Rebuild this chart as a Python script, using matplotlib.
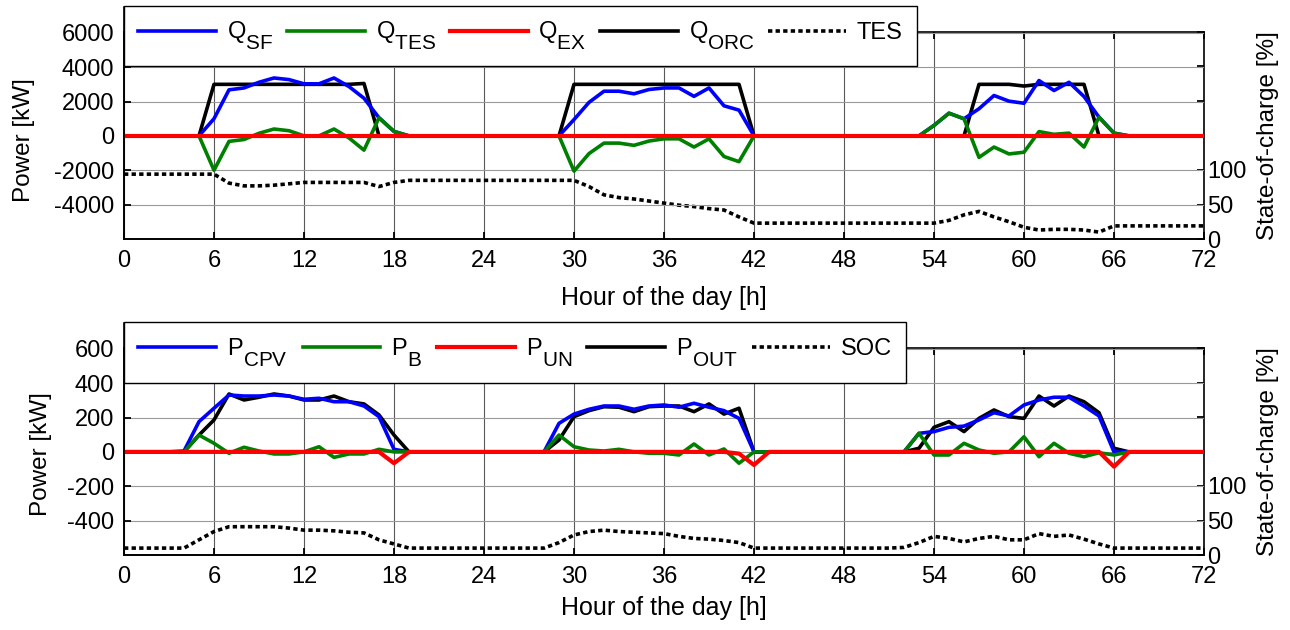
import matplotlib
matplotlib.use('Agg')
import matplotlib.pyplot as plt
import numpy as np
from matplotlib.ticker import FixedLocator, FixedFormatter
import matplotlib._mathtext as _mt
_mt.SHRINK_FACTOR = 0.88
_mt.FontConstantsBase.sub1 = 0.85

plt.rcParams['font.family'] = ['Liberation Sans', 'DejaVu Sans']
plt.rcParams['mathtext.fontset'] = 'custom'
plt.rcParams['mathtext.rm'] = 'Liberation Sans'
plt.rcParams['mathtext.it'] = 'Liberation Sans:italic'
plt.rcParams['mathtext.bf'] = 'Liberation Sans:bold'
plt.rcParams['axes.unicode_minus'] = False

# ---------------- data ----------------
hours = np.arange(73)

# top panel: thermal powers [kW]
q_sf = [0, 0, 0, 0, 0, 0, 1000, 2680, 2790, 3120, 3370, 3275,
        3030, 3030, 3370, 2870, 2190, 1055, 260, 0, 0, 0, 0, 0,
        0, 0, 0, 0, 0, 0, 950, 1950, 2600, 2600, 2450, 2700,
        2790, 2790, 2300, 2790, 1750, 1500, 0, 0, 0, 0, 0, 0,
        0, 0, 0, 0, 0, 0, 610, 1320, 995, 1580, 2350, 2020,
        1900, 3220, 2640, 3120, 2290, 1090, 160, 0, 0, 0, 0, 0,
        0]
q_tes = [0, 0, 0, 0, 0, 0, -2000, -320, -210, 150, 400, 300,
         0, 0, 400, -120, -830, 1055, 260, 0, 0, 0, 0, 0,
         0, 0, 0, 0, 0, 0, -2050, -1030, -420, -420, -550, -300,
         -170, -170, -650, -170, -1200, -1500, 0, 0, 0, 0, 0, 0,
         0, 0, 0, 0, 0, 0, 610, 1320, 995, -1250, -650, -1050,
         -950, 250, 90, 160, -650, 1090, 160, 0, 0, 0, 0, 0,
         0]
q_ex = [0, 0, 0, 0, 0, 0, 0, 0, 0, 0, 0, 0,
        0, 0, 0, 0, 0, 0, 0, 0, 0, 0, 0, 0,
        0, 0, 0, 0, 0, 0, 0, 0, 0, 0, 0, 0,
        0, 0, 0, 0, 0, 0, 0, 0, 0, 0, 0, 0,
        0, 0, 0, 0, 0, 0, 0, 0, 0, 0, 0, 0,
        0, 0, 0, 0, 0, 0, 0, 0, 0, 0, 0, 0,
        0]
q_orc = [0, 0, 0, 0, 0, 0, 3000, 3000, 3000, 3000, 3000, 3000,
         3000, 3000, 3000, 3000, 3050, 0, 0, 0, 0, 0, 0, 0,
         0, 0, 0, 0, 0, 0, 3000, 3000, 3000, 3000, 3000, 3000,
         3000, 3000, 3000, 3000, 3000, 3000, 0, 0, 0, 0, 0, 0,
         0, 0, 0, 0, 0, 0, 0, 0, 0, 3000, 3000, 3000,
         2900, 3000, 3000, 3000, 3000, 0, 0, 0, 0, 0, 0, 0,
         0]
tes_soc = [94, 94, 94, 94, 94, 94, 94, 81, 77, 77, 78, 80,
           82, 82, 82, 82, 82, 76, 82, 85, 85, 85, 85, 85,
           85, 85, 85, 85, 85, 85, 85, 76, 64, 60, 58, 55,
           52, 49, 47, 44, 42, 32, 23, 23, 23, 23, 23, 23,
           23, 23, 23, 23, 23, 23, 23, 27, 35, 40, 32, 25,
           17, 13, 14, 14, 13, 10, 19, 19, 19, 19, 19, 19,
           19]

# bottom panel: electrical powers [kW]
p_cpv = [0, 0, 0, 0, 5, 176, 254, 331, 325, 325, 331, 325,
         306, 312, 292, 292, 267, 205, 15, 0, 0, 0, 0, 0,
         0, 0, 0, 0, 0, 166, 220, 248, 267, 267, 248, 267,
         273, 260, 283, 260, 240, 195, 0, 0, 0, 0, 0, 0,
         0, 0, 0, 0, 0, 108, 118, 143, 150, 186, 228, 209,
         273, 302, 318, 318, 267, 209, 0, 0, 0, 0, 0, 0,
         0]
p_b = [0, 0, 0, 0, 0, 98, 50, -8, 27, 5, -12, -12,
       0, 30, -32, -12, -12, 15, 0, 0, 0, 0, 0, 0,
       0, 0, 0, 0, 0, 98, 30, 11, 5, 15, 0, -8,
       -8, -18, 46, -18, 17, -66, 0, 0, 0, 0, 0, 0,
       0, 0, 0, 0, 0, 108, -18, -18, 50, 11, -8, 0,
       88, -28, 50, -8, -28, -5, -18, 0, 0, 0, 0, 0,
       0]
p_un = [0, 0, 0, 0, 0, 0, 0, 0, 0, 0, 0, 0,
        0, 0, 0, 0, 0, 0, -66, 0, 0, 0, 0, 0,
        0, 0, 0, 0, 0, 0, 0, 0, 0, 0, 0, 0,
        0, 0, 0, 0, 0, -10, -76, 0, 0, 0, 0, 0,
        0, 0, 0, 0, 0, 0, 0, 0, 0, 0, 0, 0,
        0, 0, 0, 0, 0, 0, -86, 0, 0, 0, 0, 0,
        0]
p_out = [0, 0, 0, 0, 0, 98, 186, 337, 302, 318, 337, 325,
         302, 302, 325, 292, 279, 215, 98, 0, 0, 0, 0, 0,
         0, 0, 0, 0, 0, 69, 205, 240, 263, 260, 234, 263,
         267, 267, 234, 279, 220, 254, 0, 0, 0, 0, 0, 0,
         0, 0, 0, 0, 0, 21, 143, 176, 118, 195, 244, 205,
         195, 325, 267, 325, 292, 228, 21, 0, 0, 0, 0, 0,
         0]
bat_soc = [10, 10, 10, 10, 10, 22, 34, 41, 41, 41, 41, 39,
           36, 36, 35, 33, 32, 22, 16, 10, 10, 10, 10, 10,
           10, 10, 10, 10, 10, 18, 29, 34, 36, 34, 33, 32,
           31, 27, 24, 23, 21, 18, 10, 10, 10, 10, 10, 10,
           10, 10, 10, 10, 11, 18, 27, 24, 19, 24, 27, 22,
           22, 31, 27, 29, 23, 16, 10, 10, 10, 10, 10, 10,
           10]

x_ticks = [0, 6, 12, 18, 24, 30, 36, 42, 48, 54, 60, 66, 72]
top_yticks = [-4000, -2000, 0, 2000, 4000, 6000]
top_ylabels = ['-4000', '-2000', '0', '2000', '4000', '6000']
bot_yticks = [-400, -200, 0, 200, 400, 600]
bot_ylabels = ['-400', '-200', '0', '200', '400', '600']
soc_ticks = [0, 50, 100, 150, 200, 250, 300]
soc_labels = ['0', '50', '100', '', '', '', '']

top_names = [r'Q$_{\mathrm{SF}}$', r'Q$_{\mathrm{TES}}$', r'Q$_{\mathrm{EX}}$',
             r'Q$_{\mathrm{ORC}}$', 'TES']
bot_names = [r'P$_{\mathrm{CPV}}$', r'P$_{\mathrm{B}}$', r'P$_{\mathrm{UN}}$',
             r'P$_{\mathrm{OUT}}$', 'SOC']

# ---------------- figure ----------------
W, H = 1290, 630
fig = plt.figure(figsize=(W / 100, H / 100), dpi=100)
FS = 17
FS_LAB = 17.5
LW = 2.6
C_BLUE, C_GREEN, C_RED, C_BLACK = '#0000ff', '#008000', '#ff0000', '#000000'


def rect(x0, x1, ytop, ybot):
    return [x0 / W, 1 - ybot / H, (x1 - x0) / W, (ybot - ytop) / H]


def panel(ytop_left, ytop_right, ybot, ylim, yticks, ylabels, s_blue, s_green,
          s_red, s_black, soc, names, leg_bottom, ylab_x, ylab_y, xlab_y):
    ax2 = fig.add_axes(rect(124, 1204, ytop_right, ybot))
    ax = fig.add_axes(rect(124, 1204, ytop_left, ybot))
    ax.patch.set_alpha(0)

    # SOC axis (right)
    l_soc, = ax2.plot(hours, soc, color='k', lw=LW, linestyle=(0, (1.2, 0.9)),
                      dash_capstyle='butt')
    ax2.set_xlim(0, 72)
    ax2.set_ylim(0, 300)
    ax2.yaxis.set_major_locator(FixedLocator(soc_ticks))
    ax2.yaxis.set_major_formatter(FixedFormatter(soc_labels))
    ax2.xaxis.set_major_locator(FixedLocator(x_ticks))
    ax2.tick_params(axis='y', direction='in', left=False, right=True,
                    labelleft=False, labelright=True, labelsize=FS, pad=2,
                    length=5, width=1.3)
    ax2.tick_params(axis='x', direction='in', top=True, bottom=False,
                    labelbottom=False, length=5, width=1.3)
    ax2.grid(axis='x', color='0.35', lw=0.8)
    ax2.set_ylabel('State-of-charge [%]', fontsize=FS_LAB)
    ax2.yaxis.set_label_position('right')
    ax2.yaxis.set_label_coords(1.049, 0.5)
    for s in ax2.spines.values():
        s.set_linewidth(1.2)

    # power axis (left)
    l_black, = ax.plot(hours, s_black, color=C_BLACK, lw=LW)
    l_blue, = ax.plot(hours, s_blue, color=C_BLUE, lw=LW)
    l_green, = ax.plot(hours, s_green, color=C_GREEN, lw=LW)
    l_red, = ax.plot(hours, s_red, color=C_RED, lw=LW + 0.4)
    ax.set_xlim(0, 72)
    ax.set_ylim(*ylim)
    ax.xaxis.set_major_locator(FixedLocator(x_ticks))
    ax.yaxis.set_major_locator(FixedLocator(yticks))
    ax.yaxis.set_major_formatter(FixedFormatter(ylabels))
    ax.tick_params(axis='y', direction='in', left=True, right=False,
                   labelsize=FS, pad=7, length=5, width=1.3)
    ax.tick_params(axis='x', direction='in', top=False, bottom=True,
                   labelsize=FS, pad=8, length=5, width=1.3)
    ax.grid(axis='y', color='0.6', lw=0.8)
    ax.spines['top'].set_visible(False)
    ax.spines['right'].set_visible(False)
    for s in ('left', 'bottom'):
        ax.spines[s].set_linewidth(1.2)
    ax.set_ylabel('Power [kW]', fontsize=FS_LAB)
    ax.yaxis.set_label_coords(ylab_x, ylab_y)
    ax.set_xlabel('Hour of the day [h]', fontsize=FS_LAB + 0.5)
    ax.xaxis.set_label_coords(0.5, xlab_y)

    handles = [l_blue, l_green, l_red, l_black, l_soc]
    leg = ax.legend(handles, names, ncol=5, mode='expand', loc='center',
                    bbox_to_anchor=(124 / W, 1 - leg_bottom[1] / H,
                                    (leg_bottom[0] - 124) / W,
                                    (leg_bottom[1] - ytop_left) / H),
                    bbox_transform=fig.transFigure, fontsize=FS,
                    handlelength=3.3, handletextpad=0.45, borderpad=0.6,
                    borderaxespad=0, fancybox=False, framealpha=1,
                    edgecolor='k')
    leg.get_frame().set_linewidth(1.0)
    return ax, ax2


panel(7, 32, 239, (-6000, 7500), top_yticks, top_ylabels,
      q_sf, q_tes, q_ex, q_orc, tes_soc, top_names, (917, 65),
      -0.082, 0.427, -0.203)
panel(323, 348, 555, (-600, 750), bot_yticks, bot_ylabels,
      p_cpv, p_b, p_un, p_out, bat_soc, bot_names, (906, 382),
      -0.067, 0.435, -0.178)

fig.savefig('out.png', dpi=100)
